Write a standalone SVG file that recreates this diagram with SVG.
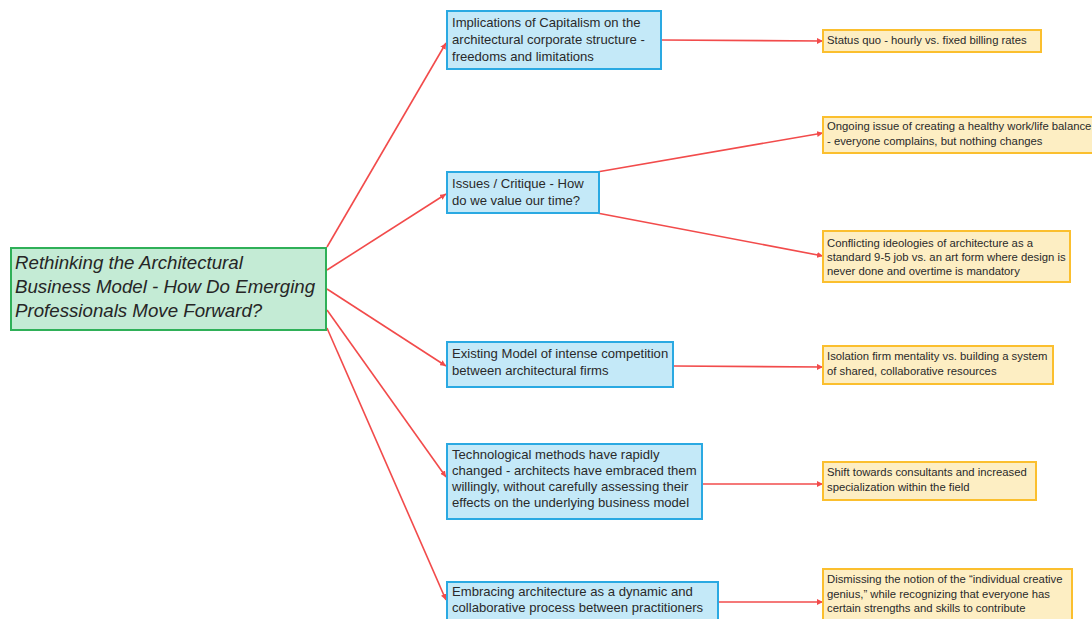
<svg xmlns="http://www.w3.org/2000/svg" width="1092" height="619" viewBox="0 0 1092 619">
<style>
.root rect{fill:#c4ebd5;stroke:#2fb058;stroke-width:2}
.root text{font-family:"Liberation Sans",Arial,sans-serif;font-size:18.7px;font-style:italic;fill:#262626}
.mid rect{fill:#c4e9f8;stroke:#2aa9e2;stroke-width:2}
.mid text{font-family:"Liberation Sans",Arial,sans-serif;font-size:13.1px;fill:#2a2a2a}
.leaf rect{fill:#fdeec3;stroke:#fbbf2e;stroke-width:2}
.leaf text{font-family:"Liberation Sans",Arial,sans-serif;font-size:11.3px;fill:#2a2a2a}
#connectors line{stroke:#f24b4b;stroke-width:1.6;marker-end:url(#arr)}
</style>
<defs>
<marker id="arr" viewBox="0 0 10 10" refX="10" refY="5" markerWidth="6" markerHeight="6" markerUnits="userSpaceOnUse" orient="auto">
<path d="M0,0 L10,5 L0,10 z" fill="#f24b4b"/>
</marker>
</defs>
<rect width="1092" height="619" fill="#fff"/>
<g id="connectors">
<line x1="327" y1="247" x2="446" y2="43"/>
<line x1="327" y1="270" x2="446" y2="194"/>
<line x1="327" y1="289" x2="446" y2="366"/>
<line x1="327" y1="310" x2="446" y2="477"/>
<line x1="327" y1="328" x2="446" y2="600"/>
<line x1="661" y1="40" x2="823" y2="41"/>
<line x1="597" y1="172" x2="823" y2="133"/>
<line x1="597" y1="213" x2="823" y2="256"/>
<line x1="673" y1="366" x2="823" y2="367"/>
<line x1="702" y1="484" x2="823" y2="484"/>
<line x1="718" y1="602" x2="823" y2="602"/>
</g>
<g id="root" class="root">
<rect x="11" y="248" width="315" height="82"/>
<text x="15" y="269">Rethinking the Architectural</text>
<text x="15" y="293">Business Model - How Do Emerging</text>
<text x="15" y="317">Professionals Move Forward?</text>
</g>
<g id="n1" class="mid">
<rect x="447" y="11" width="214" height="58"/>
<text x="452" y="27">Implications of Capitalism on the</text>
<text x="452" y="44">architectural corporate structure -</text>
<text x="452" y="61">freedoms and limitations</text>
</g>
<g id="n2" class="mid">
<rect x="447" y="172" width="152" height="41"/>
<text x="452" y="188">Issues / Critique - How</text>
<text x="452" y="205">do we value our time?</text>
</g>
<g id="n3" class="mid">
<rect x="447" y="342" width="226" height="45"/>
<text x="452" y="358">Existing Model of intense competition</text>
<text x="452" y="375">between architectural firms</text>
</g>
<g id="n4" class="mid">
<rect x="447" y="444" width="255" height="75"/>
<text x="452" y="459">Technological methods have rapidly</text>
<text x="452" y="475">changed - architects have embraced them</text>
<text x="452" y="491">willingly, without carefully assessing their</text>
<text x="452" y="507">effects on the underlying business model</text>
</g>
<g id="n5" class="mid">
<rect x="447" y="582" width="271" height="40"/>
<text x="452" y="596">Embracing architecture as a dynamic and</text>
<text x="452" y="612">collaborative process between practitioners</text>
</g>
<g id="l1" class="leaf">
<rect x="823" y="30" width="218" height="22"/>
<text x="827" y="44">Status quo - hourly vs. fixed billing rates</text>
</g>
<g id="l2" class="leaf">
<rect x="823" y="117" width="275" height="36"/>
<text x="827" y="130">Ongoing issue of creating a healthy work/life balance</text>
<text x="827" y="145">- everyone complains, but nothing changes</text>
</g>
<g id="l3" class="leaf">
<rect x="823" y="231" width="247" height="51"/>
<text x="827" y="247">Conflicting ideologies of architecture as a</text>
<text x="827" y="261">standard 9-5 job vs. an art form where design is</text>
<text x="827" y="275">never done and overtime is mandatory</text>
</g>
<g id="l4" class="leaf">
<rect x="823" y="346" width="230" height="38"/>
<text x="827" y="360">Isolation firm mentality vs. building a system</text>
<text x="827" y="375">of shared, collaborative resources</text>
</g>
<g id="l5" class="leaf">
<rect x="823" y="462" width="213" height="38"/>
<text x="827" y="476">Shift towards consultants and increased</text>
<text x="827" y="491">specialization within the field</text>
</g>
<g id="l6" class="leaf">
<rect x="823" y="569" width="249" height="56"/>
<text x="827" y="583">Dismissing the notion of the “individual creative</text>
<text x="827" y="598">genius,” while recognizing that everyone has</text>
<text x="827" y="612">certain strengths and skills to contribute</text>
</g>
</svg>
